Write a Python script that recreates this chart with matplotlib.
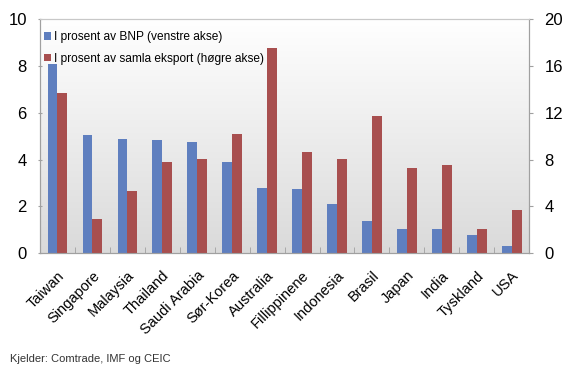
import numpy as np
import matplotlib.pyplot as plt

plt.rcParams['font.family'] = ['Liberation Sans', 'DejaVu Sans']

countries = ['Taiwan', 'Singapore', 'Malaysia', 'Thailand', 'Saudi Arabia', 'Sør-Korea',
             'Australia', 'Fillippinene', 'Indonesia', 'Brasil', 'Japan', 'India',
             'Tyskland', 'USA']
bnp = [8.1, 5.05, 4.9, 4.85, 4.77, 3.9, 2.78, 2.74, 2.1, 1.37, 1.05, 1.02, 0.76, 0.3]
eksport = [13.7, 2.95, 5.27, 7.8, 8.03, 10.15, 17.55, 8.67, 8.05, 11.75, 7.28, 7.5, 2.03, 3.67]

blue = '#5f7fbf'
red = '#a84f4f'
spine = '#a0a0a0'

fig = plt.figure(figsize=(5.63, 3.69), dpi=100)
ax = fig.add_axes([0.071, 0.314, 0.869, 0.634])
ax2 = ax.twinx()

# background gradient, white at top to light grey at bottom
grad = np.linspace(1, 0, 256).reshape(-1, 1)
ax.imshow(grad, extent=[0, 1, 0, 1], transform=ax.transAxes, aspect='auto',
          cmap=plt.matplotlib.colors.LinearSegmentedColormap.from_list('g', ['#dadada', '#ffffff']),
          zorder=0)

x = np.arange(len(countries))
w = 0.28
b1 = ax.bar(x - w / 2, bnp, w, color=blue, zorder=2, label='I prosent av BNP (venstre akse)')
b2 = ax2.bar(x + w / 2, eksport, w, color=red, zorder=2,
             label='I prosent av samla eksport (høgre akse)')

ax.set_xlim(-0.5, len(countries) - 0.5)
ax.set_ylim(0, 10)
ax2.set_ylim(0, 20)
ax.set_yticks([0, 2, 4, 6, 8, 10])
ax2.set_yticks([0, 4, 8, 12, 16, 20])

ax.set_xticks(x)
ax.set_xticklabels(countries, rotation=45, ha='right', rotation_mode='anchor', fontsize=10.5)
ax.tick_params(axis='x', length=0, pad=11)
ax.set_xticks(np.arange(0.5, len(countries) - 0.5), minor=True)
ax.tick_params(axis='x', which='minor', direction='in', length=4, color=spine)
ax.tick_params(axis='y', labelsize=12, length=3, color=spine, pad=8, direction='inout')
ax2.tick_params(axis='y', labelsize=12, length=3, color=spine, pad=8)

for a in (ax, ax2):
    for s in a.spines.values():
        s.set_color(spine)
ax.spines['top'].set_color('#c8c8c8')
ax2.spines['top'].set_color('#c8c8c8')

ax2.legend(handles=[b1, b2], loc='upper left', bbox_to_anchor=(0.0, 0.965), frameon=False,
           fontsize=8.6, handlelength=0.6, handleheight=0.6, handletextpad=0.3,
           borderaxespad=0.1, labelspacing=0.8, borderpad=0.2)

fig.text(0.018, 0.02, 'Kjelder: Comtrade, IMF og CEIC', fontsize=8, color='#333333')

fig.savefig('out.png', dpi=100)
